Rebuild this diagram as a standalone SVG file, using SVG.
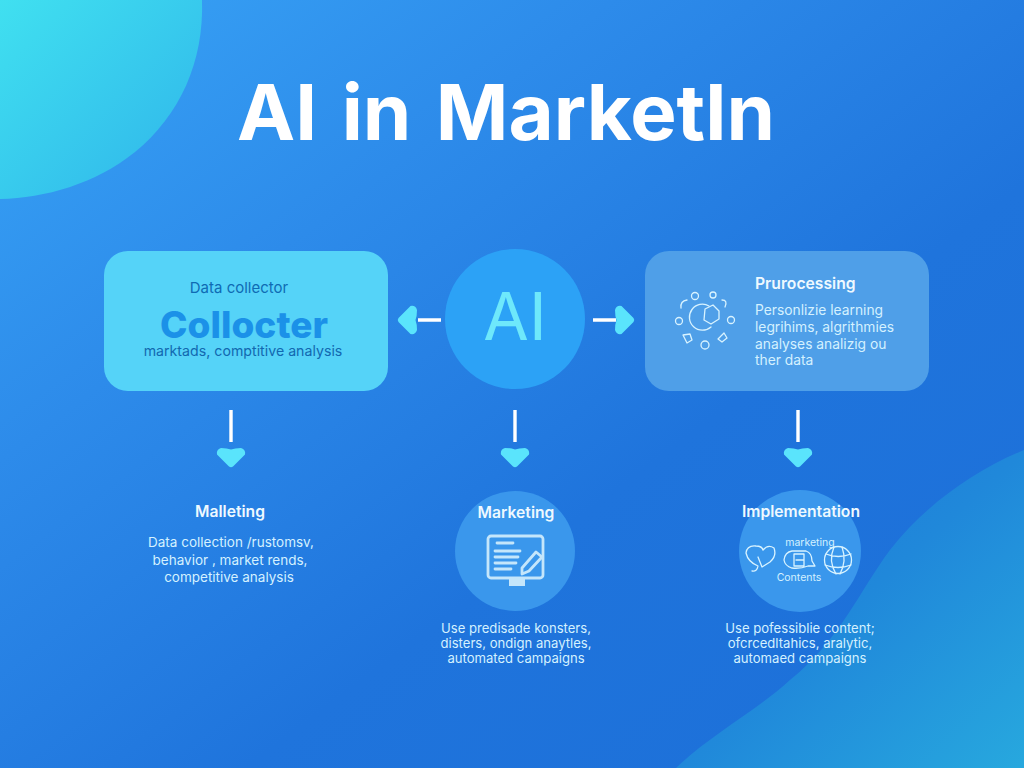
<svg xmlns="http://www.w3.org/2000/svg" width="1024" height="768" viewBox="0 0 1024 768">
<style>
text{font-family:"Inter","Liberation Sans",sans-serif;text-anchor:middle}
.h{font-weight:600;font-size:15.7px;fill:#eef9ff}
.b{font-size:13.5px;fill:#d4f1ff}
.c{font-size:13.1px;fill:#d4f1ff}
.l{font-size:13.8px;fill:#d4f1ff;text-anchor:start}
.k{fill:none;stroke:#d8f3ff;stroke-width:1.3;stroke-linecap:round;stroke-linejoin:round}
.m{fill:none;stroke:#c4e6fb;stroke-width:2.8;stroke-linecap:round;stroke-linejoin:round}
.w{stroke:#fff;stroke-width:3.4;fill:none}
.t{fill:#5ae4fc}
</style>
<defs>
<linearGradient id="bg" x1="0" y1="0" x2="1" y2="1"><stop offset="0" stop-color="#38a4f6"/><stop offset=".3" stop-color="#2d8bea"/><stop offset=".62" stop-color="#1f74dc"/><stop offset="1" stop-color="#1c6fd8"/></linearGradient>
<linearGradient id="tl" x1="0" y1="0" x2="1" y2="1"><stop offset="0" stop-color="#40e0f0"/><stop offset="1" stop-color="#2fb4ea"/></linearGradient>
<linearGradient id="br" x1="0" y1="0" x2="1" y2="1"><stop offset="0" stop-color="#1c74d8"/><stop offset=".5" stop-color="#2088da"/><stop offset="1" stop-color="#27a8de"/></linearGradient>
<path id="hd" d="M-10 -10Q-4 -10 0 -8.500Q4 -10 10 -10Q15 -8.500 14 -3.500L2 8.500Q0 10 -2 8.500L-14 -3.500Q-15 -8.500 -10 -10Z"/>
</defs>
<rect width="1024" height="768" fill="url(#bg)"/>
<path d="M0 0H202C204 62 180 115 135 152C95 184 45 198 0 199Z" fill="url(#tl)"/>
<path d="M1024 450C975 470 925 505 890 550C860 590 840 640 790 680C755 712 710 735 676 768H1024Z" fill="url(#br)"/>
<text id="title" x="506" y="140" font-size="77" font-weight="700" fill="#fff" textLength="538" lengthAdjust="spacingAndGlyphs" word-spacing="6">AI in Marketln</text>
<g id="connectors">
<path class="w" d="M441 320H418M593 320H616M231 410V442M515 410V442M798 410V442"/>
<use href="#hd" class="t" transform="translate(407 320) rotate(90)"/>
<use href="#hd" class="t" transform="translate(625 320) rotate(-90)"/>
<use href="#hd" class="t" transform="translate(231 458)"/>
<use href="#hd" class="t" transform="translate(515 458)"/>
<use href="#hd" class="t" transform="translate(798 458)"/>
</g>
<g id="collector">
<rect x="104" y="251" width="284" height="140" rx="24" fill="#55d3f8"/>
<text x="239" y="293" font-size="15" fill="#0f6bb4">Data collector</text>
<text x="244" y="338" font-size="37" font-weight="800" fill="#1b91e8">Collocter</text>
<text x="243" y="356" font-size="14.200" fill="#1268b0">marktads, comptitive analysis</text>
</g>
<g id="ai">
<circle cx="515" cy="319" r="70" fill="#2ca2f6"/>
<text x="515" y="340" font-size="66" fill="#6ee8fb">AI</text>
</g>
<g id="processing">
<rect x="645" y="251" width="284" height="140" rx="24" fill="#4f9fe8"/>
<text class="h" x="755" y="289" style="text-anchor:start">Prurocessing</text>
<text class="l" x="755" y="315">Personlizie learning</text>
<text class="l" x="755" y="332">legrihims, algrithmies</text>
<text class="l" x="755" y="349">analyses analizig ou</text>
<text class="l" x="755" y="365">ther data</text>
<path class="k" d="M709 306A13 13 0 1 0 711 327"/>
<path class="k" d="M705 309L713 305L719 311L719 319L711 324L704 320Z"/>
<circle class="k" cx="695" cy="296" r="3.500"/><circle class="k" cx="713" cy="295" r="3"/>
<path class="k" d="M681 308Q680 301 687 300M725 307Q728 300 722 300"/>
<circle class="k" cx="679" cy="321" r="3.500"/><circle class="k" cx="731" cy="320" r="3.500"/>
<path class="k" d="M683 335L690 334L692 340L687 343ZM718 339L724 333L727 338L722 342Z"/><circle class="k" cx="705" cy="345" r="4"/>
</g>
<g id="malleting">
<text class="h" x="230" y="517">Malleting</text>
<text class="b" x="231" y="547">Data collection /rustomsv,</text>
<text class="b" x="230" y="565">behavior , market rends,</text>
<text class="b" x="229" y="582">competitive analysis</text>
</g>
<g id="marketing">
<circle cx="515" cy="551" r="60" fill="#3a97ec"/>
<text class="h" x="516" y="518">Marketing</text>
<rect class="m" x="488" y="536" width="55" height="42" rx="3"/>
<path d="M509 579H525V586H509Z" fill="#c4e6fb"/>
<path class="m" d="M497 543H513M495 551H520M495 557H518M495 563H516M495 569H511"/>
<path class="m" d="M522 568L536 552L542 557L529 571L522 574Z"/>
<text class="c" x="516" y="633">Use predisade konsters,</text>
<text class="c" x="516" y="648">disters, ondign anaytles,</text>
<text class="c" x="516" y="663">automated campaigns</text>
</g>
<g id="implementation">
<circle cx="800" cy="551" r="61" fill="#3a97ec"/>
<text class="h" x="801" y="517">Implementation</text>
<text x="810" y="546" font-size="10.500" fill="#d4f1ff">marketing</text>
<text x="799" y="581" font-size="10.500" fill="#d4f1ff">Contents</text>
<path class="k" d="M752 571Q757 572 758 566Q748 562 746 553Q747 545 756 546Q762 546 763 550Q768 544 774 548Q777 556 770 562L762 567L758 557"/>
<path class="k" d="M784 560Q785 552 792 551H806Q812 553 812 561L815 566H808Q800 569 792 568Q785 566 784 560ZM794 554H804V566H794ZM796 560H804"/>
<circle class="k" cx="838" cy="560" r="13.500"/>
<path class="k" d="M826 554Q838 559 851 554M825 565Q838 570 851 565M834 547Q828 561 836 574M842 547Q847 561 840 574"/>
<text class="c" x="800" y="633">Use pofessiblie content;</text>
<text class="c" x="800" y="648">ofcrcedltahics, aralytic,</text>
<text class="c" x="800" y="663">automaed campaigns</text>
</g>
</svg>
